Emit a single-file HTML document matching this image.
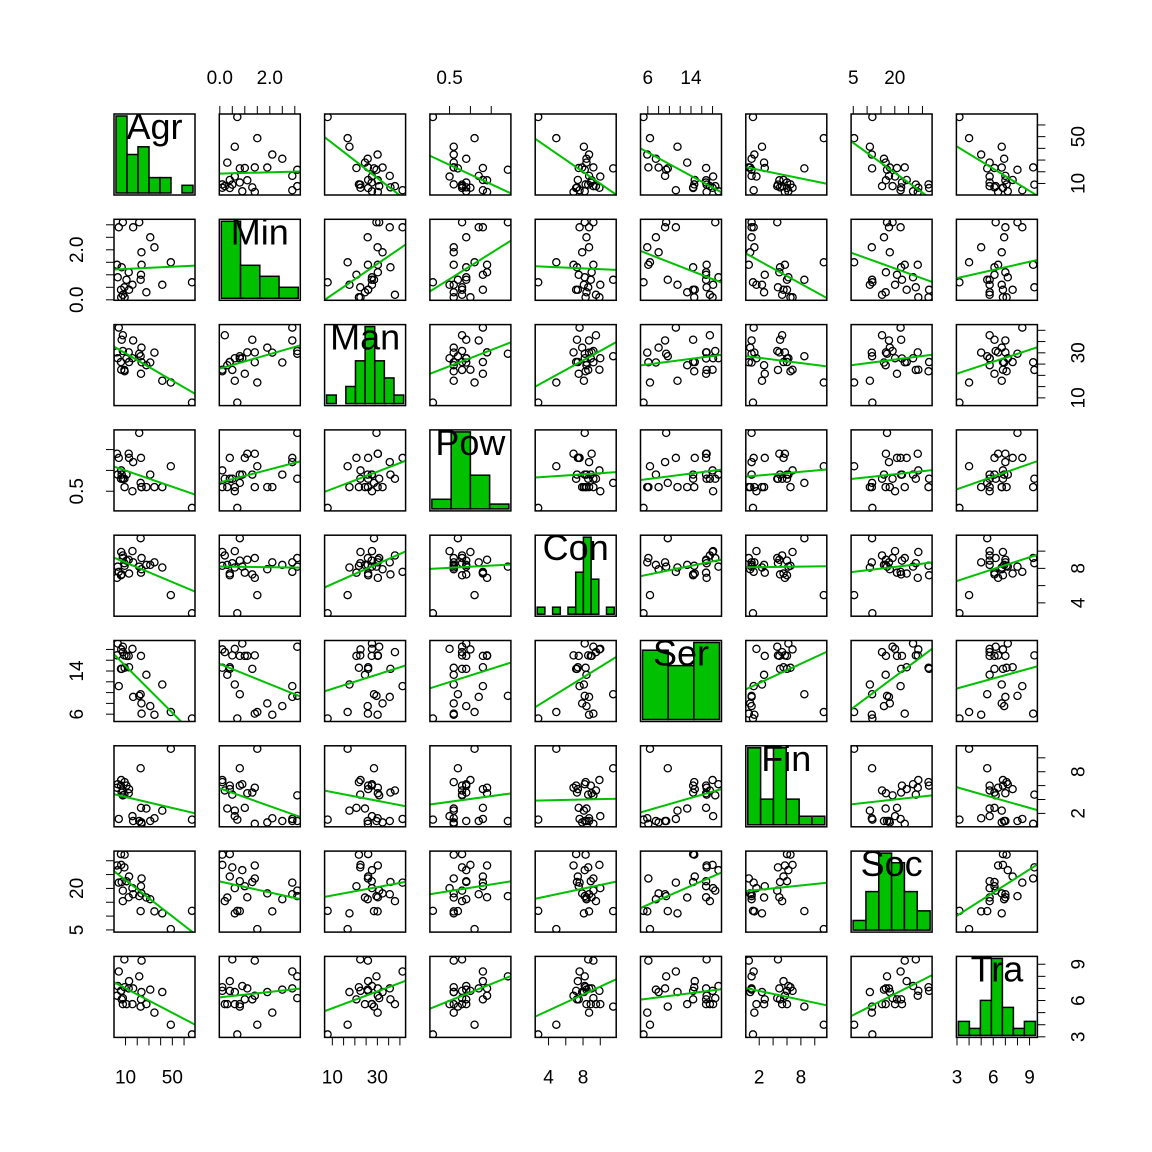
<!DOCTYPE html>
<html><head><meta charset="utf-8"><style>
body{margin:0;background:#fff}
svg{display:block;font-family:"Liberation Sans",Arial,sans-serif}
</style></head><body>
<svg id="chart" width="1152" height="1152" viewBox="0 0 1152 1152"></svg>
<script>
const varNames = ["Agr","Min","Man","Pow","Con","Ser","Fin","Soc","Tra"];
const agr = [3.3,9.2,10.8,6.7,23.2,15.9,7.7,6.3,2.7,12.7,13.0,41.4,9.0,27.8,22.9,6.1,7.7,66.8,23.6,16.5,4.2,21.7,31.1,34.7,23.7,48.7];
const minv = [0.9,0.1,0.8,1.3,1.0,0.6,3.1,0.1,1.4,1.1,0.4,0.6,0.5,0.3,0.8,0.4,0.2,0.7,1.9,2.9,2.9,3.1,2.5,2.1,1.4,1.5];
const man = [27.6,21.8,27.5,35.8,20.7,27.6,30.8,22.5,30.2,30.2,25.9,17.6,22.4,24.5,28.5,25.9,37.8,7.9,32.3,35.5,41.2,29.6,25.7,30.1,25.8,16.8];
const pow = [0.9,0.6,0.9,0.9,1.3,0.5,0.8,1.0,1.4,1.4,1.3,0.6,0.8,0.6,0.7,0.8,0.8,0.1,0.6,1.2,1.3,1.9,0.9,0.6,0.6,1.1];
const con = [8.2,8.3,8.9,7.3,7.5,10.0,9.2,9.9,6.9,9.0,7.4,8.1,8.6,8.4,11.5,7.2,9.5,2.8,7.9,8.7,7.6,8.2,8.4,8.7,9.2,4.9];
const ser = [19.1,14.6,16.8,14.4,16.8,18.1,18.5,18.0,16.9,16.8,14.7,11.5,16.9,13.3,9.7,14.4,17.5,5.2,8.0,9.2,11.2,9.4,7.5,5.9,6.1,6.4];
const fin = [6.2,6.5,6.0,5.0,2.8,1.6,4.6,6.8,5.7,4.9,5.5,2.4,4.7,2.7,8.5,6.0,5.3,1.1,0.7,0.9,1.2,0.9,0.9,1.3,0.5,11.3];
const soc = [26.6,32.2,22.6,22.3,20.8,20.1,19.2,28.5,28.3,16.8,24.3,11.0,27.6,16.7,11.8,32.4,15.4,11.9,18.2,17.9,22.1,17.2,16.1,11.7,23.6,5.3];
const tra = [7.2,7.1,5.7,6.1,6.1,5.7,6.2,6.8,6.4,7.0,7.6,6.7,9.4,5.7,5.5,6.8,5.7,3.2,6.7,7.0,8.4,8.0,6.9,5.0,9.3,4.0];
const tickVals = [[10,20,30,40,50,60],[0,0.5,1,1.5,2,2.5,3],[10,15,20,25,30,35,40],[0.5,1,1.5],[4,6,8,10],[6,8,10,12,14,16,18],[2,4,6,8,10],[5,10,15,20,25,30],[3,4,5,6,7,8,9]];
const tickLabels = [["10","50"],["0.0","2.0"],["10","30"],["0.5"],["4","8"],["6","14"],["2","8"],["5","20"],["3","6","9"]];
const histStart = [0,0,5,0,2,5,0,5,3];
const histStep = [10,1,5,0.5,1,5,2,5,1];
const histBins = [7,4,8,4,10,3,6,6,7];

const data=[agr,minv,man,pow,con,ser,fin,soc,tra];
const svg=document.getElementById('chart');
const NS="http://www.w3.org/2000/svg";
function mk(tag,attrs,parent){const e=document.createElementNS(NS,tag);for(const k in attrs)e.setAttribute(k,attrs[k]);(parent||svg).appendChild(e);return e;}
const P0=114, STEP=105.3, W=81;
function rng(v){const mn=Math.min(...v),mx=Math.max(...v),d=(mx-mn)*0.04;return [mn-d,mx+d];}
const ranges=data.map(rng);
function sx(j,v){const r=ranges[j];return P0+j*STEP+(v-r[0])/(r[1]-r[0])*W;}
function sy(i,v){const r=ranges[i];return P0+i*STEP+W-(v-r[0])/(r[1]-r[0])*W;}
function valueLabel(v,lbls){return lbls.find(l=>Math.abs(parseFloat(l)-v)<1e-9);}
for(let i=0;i<9;i++){
  for(let j=0;j<9;j++){
    const x0=P0+j*STEP,y0=P0+i*STEP;
    const g=mk('g',{});
    
    
    const cp=mk('clipPath',{id:'c'+i+'_'+j},g);mk('rect',{x:x0,y:y0,width:W,height:W},cp);
    if(i===j){
      const counts=new Array(histBins[i]).fill(0);
      data[i].forEach(v=>{let b=Math.ceil((v-histStart[i])/histStep[i]-1e-9)-1;if(b<0)b=0;if(b>=histBins[i])b=histBins[i]-1;counts[b]++;});
      const mx=Math.max(...counts),bw=(W-4)/histBins[i];
      counts.forEach((c,k)=>{
        const h=c/mx*(W-4);
        const r=mk('rect',{x:x0+2+k*bw,y:y0+W-2-h,width:bw,height:h,fill:'#00C000',stroke:'#000','stroke-width':1.5},g);
        
        
      });
      const t=mk('text',{x:x0+W/2,y:y0+25,'text-anchor':'middle','font-size':36,fill:'#000'},g);
      t.textContent=varNames[i];
      
      
    } else {
      const xs=data[j],ys=data[i],n=xs.length;
      const mxv=xs.reduce((a,b)=>a+b)/n,myv=ys.reduce((a,b)=>a+b)/n;
      let sxy=0,sxx=0;for(let k=0;k<n;k++){sxy+=(xs[k]-mxv)*(ys[k]-myv);sxx+=(xs[k]-mxv)**2;}
      const b=sxy/sxx,a=myv-b*mxv;
      const pg=mk('g',{'clip-path':'url(#c'+i+'_'+j+')'},g);
      for(let k=0;k<n;k++){
        const c=mk('circle',{cx:sx(j,xs[k]),cy:sy(i,ys[k]),r:3.6,fill:'none',stroke:'#000','stroke-width':1.3},pg);
        
        
      }
      const xa=ranges[j][0],xb=ranges[j][1];
      const l=mk('line',{x1:sx(j,xa),y1:sy(i,a+b*xa),x2:sx(j,xb),y2:sy(i,a+b*xb),stroke:'#00C000','stroke-width':2},pg);
      
      
    }
    const fr=mk('rect',{x:x0,y:y0,width:W,height:W,fill:'none',stroke:'#000','stroke-width':1.5},g);
    
    
  }
}
// axes
for(let k=0;k<9;k++){
  const top=(k%2===1);
  const ax=mk('g',{});
  
  
  const yb=top?P0:P0+8*STEP+W, dir=top?-1:1;
  const tx=tickVals[k].map(v=>sx(k,v));
  mk('line',{x1:tx[0],x2:tx[tx.length-1],y1:yb,y2:yb,stroke:'#000','stroke-width':1},ax);
  tickVals[k].forEach((v,m)=>{
    mk('line',{x1:tx[m],x2:tx[m],y1:yb,y2:yb+dir*8,stroke:'#000','stroke-width':1},ax);
    const lb=valueLabel(v,tickLabels[k]);
    if(lb){const t=mk('text',{x:tx[m],y:top?yb-30:yb+46,'text-anchor':'middle','font-size':19},ax);t.textContent=lb;
      
      }
  });
  const left=(k%2===1);
  const ay=mk('g',{});
  
  
  const xb=left?P0:P0+8*STEP+W, d2=left?-1:1;
  const ty=tickVals[k].map(v=>sy(k,v));
  mk('line',{x1:xb,x2:xb,y1:ty[0],y2:ty[ty.length-1],stroke:'#000','stroke-width':1},ay);
  tickVals[k].forEach((v,m)=>{
    mk('line',{x1:xb,x2:xb+d2*8,y1:ty[m],y2:ty[m],stroke:'#000','stroke-width':1},ay);
    const lb=valueLabel(v,tickLabels[k]);
    if(lb){const xx=left?xb-31:xb+47;
      const t=mk('text',{x:xx,y:ty[m],'text-anchor':'middle','font-size':19,transform:'rotate(-90 '+xx+' '+ty[m]+')'},ay);t.textContent=lb;
      
      }
  });
}
</script>
</body></html>
